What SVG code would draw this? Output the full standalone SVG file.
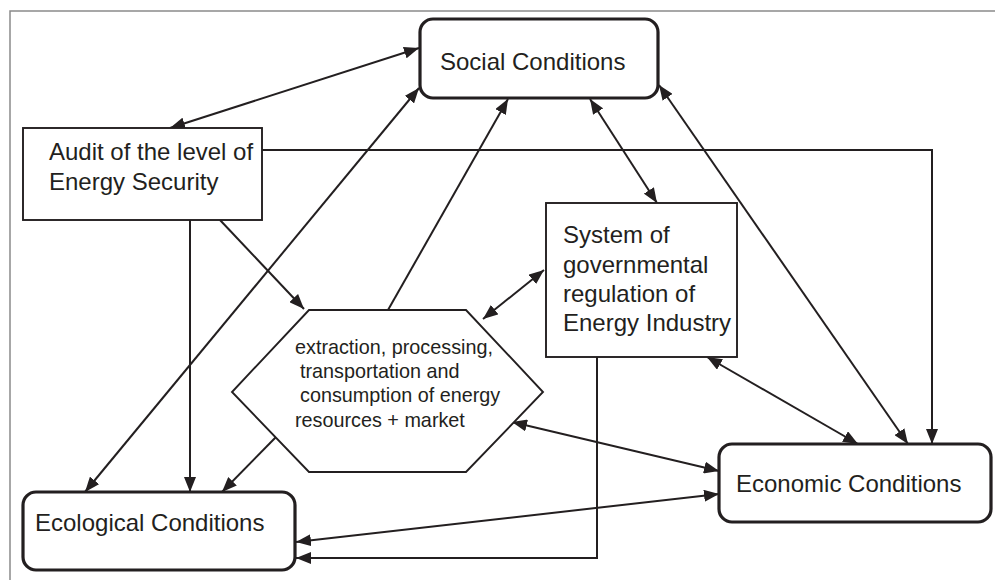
<svg xmlns="http://www.w3.org/2000/svg" width="995" height="581" viewBox="0 0 995 581">
  <style>
    .frame { fill: none; stroke: #8a8a8a; stroke-width: 1.5; }
    .box { fill: #ffffff; stroke: #231f20; stroke-width: 1.9; }
    .rbox { fill: #ffffff; stroke: #231f20; stroke-width: 3.2; }
    .lbl { font-family: "Liberation Sans", Arial, sans-serif; font-size: 24px; fill: #231f20; }
    .small { font-family: "Liberation Sans", Arial, sans-serif; font-size: 19.8px; fill: #231f20; }
    .wire { fill: none; stroke: #231f20; stroke-width: 2; }
  </style>
  <defs>
    <marker id="head" viewBox="0 0 15 12" refX="15" refY="6" markerWidth="15" markerHeight="12" markerUnits="userSpaceOnUse" orient="auto-start-reverse">
      <path d="M0,0 L15,6 L0,12 Z" fill="#231f20"/>
    </marker>
  </defs>

  <rect width="995" height="581" fill="#ffffff"/>
  <path class="frame" d="M10,580 V11 H995"/>

  <g id="connectors">
    <!-- Social <-> Audit -->
    <line class="wire" x1="419" y1="48" x2="170" y2="128" marker-start="url(#head)" marker-end="url(#head)"/>
    <!-- Social <-> Ecological -->
    <line class="wire" x1="419" y1="88" x2="85" y2="492" marker-start="url(#head)" marker-end="url(#head)"/>
    <!-- Audit -> Ecological -->
    <line class="wire" x1="190" y1="220" x2="190" y2="492" marker-end="url(#head)"/>
    <!-- Audit -> extraction hexagon -->
    <line class="wire" x1="220" y1="220" x2="304" y2="309" marker-end="url(#head)"/>
    <!-- hexagon -> Social -->
    <line class="wire" x1="388" y1="310" x2="508" y2="99" marker-end="url(#head)"/>
    <!-- Social <-> System -->
    <line class="wire" x1="590" y1="99" x2="657" y2="203" marker-start="url(#head)" marker-end="url(#head)"/>
    <!-- Social <-> Economic -->
    <line class="wire" x1="659" y1="85" x2="908" y2="444" marker-start="url(#head)" marker-end="url(#head)"/>
    <!-- Audit -> Economic (elbow) -->
    <polyline class="wire" points="262,150 932,150 932,444" marker-end="url(#head)"/>
    <!-- System <-> hexagon -->
    <line class="wire" x1="544" y1="270" x2="483" y2="319" marker-start="url(#head)" marker-end="url(#head)"/>
    <!-- System <-> Economic -->
    <line class="wire" x1="707" y1="357" x2="858" y2="444" marker-start="url(#head)" marker-end="url(#head)"/>
    <!-- hexagon <-> Economic -->
    <line class="wire" x1="512" y1="422" x2="719" y2="471" marker-start="url(#head)" marker-end="url(#head)"/>
    <!-- Ecological <-> Economic -->
    <line class="wire" x1="296" y1="542" x2="719" y2="494" marker-start="url(#head)" marker-end="url(#head)"/>
    <!-- System -> Ecological (elbow) -->
    <polyline class="wire" points="597,357 597,558 296,558" marker-end="url(#head)"/>
    <!-- hexagon -> Ecological -->
    <line class="wire" x1="276" y1="437" x2="222" y2="492" marker-end="url(#head)"/>
  </g>

  <g id="social">
    <rect class="rbox" x="420" y="19" width="238" height="79" rx="13"/>
    <text class="lbl" x="440" y="70">Social Conditions</text>
  </g>

  <g id="audit">
    <rect class="box" x="23" y="128" width="239" height="92"/>
    <text class="lbl" x="49" y="160">Audit of the level of</text>
    <text class="lbl" x="49" y="190">Energy Security</text>
  </g>

  <g id="system">
    <rect class="box" x="546" y="203" width="191" height="154"/>
    <text class="lbl" x="563" y="243">System of</text>
    <text class="lbl" x="563" y="273">governmental</text>
    <text class="lbl" x="563" y="302">regulation of</text>
    <text class="lbl" x="563" y="331">Energy Industry</text>
  </g>

  <g id="extraction">
    <polygon class="box" points="309,310 466,310 543,392 466,472 309,472 232,392"/>
    <text class="small" x="295" y="354">extraction, processing,</text>
    <text class="small" x="300" y="378">transportation and</text>
    <text class="small" x="300" y="402">consumption of energy</text>
    <text class="small" x="295" y="427">resources + market</text>
  </g>

  <g id="ecological">
    <rect class="rbox" x="23" y="492" width="272" height="78" rx="13"/>
    <text class="lbl" x="35" y="531">Ecological Conditions</text>
  </g>

  <g id="economic">
    <rect class="rbox" x="719" y="444" width="272" height="78" rx="13"/>
    <text class="lbl" x="736" y="492">Economic Conditions</text>
  </g>
</svg>
